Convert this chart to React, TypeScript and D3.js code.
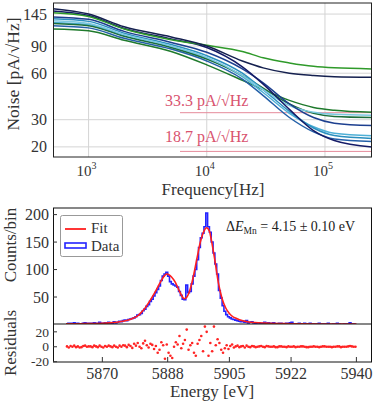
import React from "react";
import * as d3 from "d3";

// ---- noise spectra (pA/sqrt(Hz)) read at these frequencies ----
const freqs = [500, 1000, 2000, 5000, 10000, 20000, 30000, 50000, 80000, 120000, 250000];
const navyFlat = [157, 145, 120, 103, 90, 72, 65, 60, 58, 57, 56.5];
const greenFlat = [148, 140, 116, 99, 91, 83, 75.5, 70, 66.5, 65, 64];
const navySteep = [152, 142, 117, 100, 88, 66, 51, 35, 25.5, 22, 20];
const greenLow = [116, 113, 98, 83, 68, 54, 47, 40, 36, 34.5, 33.5];
const greenMid = [126, 122, 104, 88, 74, 58, 48, 38, 33, 31.5, 31];
const cyanHigh = [131, 126, 107, 90, 76, 58, 47, 37, 33.5, 32.5, 32];
const blueMid = [139, 134, 112, 95, 82, 64, 52, 38, 31, 28.5, 27.5];
const cyanLow = [128, 124, 105, 89, 75, 57, 45, 33, 27, 24.5, 23.6];
const tealLow = [135, 130, 109, 92, 78, 60, 47, 34, 26.5, 23.7, 22.7];
const blueLow = [122, 118, 101, 86, 72, 55, 43, 31, 25, 22.5, 21.7];
const noiseTicks = [20, 30, 60, 90, 145];
const freqTicks = [1000, 10000, 100000];
const refLevels = [33.3, 18.7];

// ---- Mn K-alpha spectrum, 0.5 eV bins from 5860 eV ----
const binStart = 5860;
const binWidth = 0.5;
const counts = [
  1, 2, 2, 1, 3, 1, 2, 0, 1, 2, 3, 1, 2, 2, 1, 3, 2, 1, 4, 2,
  1, 3, 2, 4, 3, 2, 5, 3, 4, 6, 5, 7, 8, 7, 9, 10, 11, 12, 14, 17,
  18, 20, 25, 28, 33, 36, 42, 46, 52, 58, 64, 70, 80, 88, 92, 95, 88, 78, 74, 72,
  70, 68, 60, 53, 46, 45, 72, 58, 60, 74, 88, 100, 118, 140, 158, 166, 178, 203, 178, 168,
  150, 130, 110, 92, 62, 48, 34, 24, 18, 14, 12, 10, 9, 8, 7, 6, 5, 6, 4, 7,
  3, 4, 5, 3, 2, 3, 3, 2, 2, 4, 1, 3, 2, 2, 3, 1, 1, 2, 2, 1,
  0, 2, 1, 3, 4, 1, 1, 1, 2, 0, 1, 2, 0, 1, 2, 1, 1, 0, 1, 2,
  0, 1, 1, 1, 2, 0, 0, 1, 1, 2, 1, 0, 0, 1, 1, 1, 3, 1, 1, 0,
];
const residuals = [
  0.5, -1, 1, 0, 1.5, -0.5, 0.5, -1, -0.5, 1, 1.5, 0, 0.5, 0.5, -0.5, 1.5, 0.5, -0.5, 1.5, 0,
  -1, 1, 0, 1.5, 0.5, -0.5, 1.5, 0, -1, 1.5, 0, 2, 1.5, -0.5, 2.5, 1, -1.5, 4, 1.5, 5,
  0, -2, 4.5, 8, 2, -1, 4, 2.5, -3, 1, -8, -4, 6, 2, -16, 3, -8, -12, -15, 0,
  6, 3, 14.5, -2, 4, 9, 23, -4, 2, 5, -8, -12, 4, 9, 14.5, -6, 27, 20, -12, 5,
  -6, 27, 2, 10, 5, -4, -8, -2, 2, -3, 1, 3, -1, 0.5, 1.5, -0.5, 0.5, 1, -1, 1.5,
  0, -0.5, 1, 0.5, -0.5, 0, 0.5, 1, 0, -0.5, 1, 0.5, 0, 0, 0.5, -0.5, -0.5, 0.5, 0.5, 0,
  0, -0.5, 0.5, 0, 0, 0.5, -0.5, 0, 0, 0.5, 0.5, 0, -0.5, -0.5, 0, 0, 0.5, 0, 0, -0.5,
  0, 0.5, 0.5, 0, 0, 0, -0.5, 0, 0, 0.5, 0.5, -0.5, 0, 0, 0, 0.5, 1, 0.5, 0, 0,
];
const fitEnergy = [5860, 5864, 5868, 5870, 5872, 5874, 5876, 5878, 5880, 5881, 5882, 5883, 5884, 5885, 5886, 5887, 5887.8, 5888.5, 5889, 5890, 5891, 5892, 5892.5, 5893, 5894, 5895, 5896, 5897, 5898, 5898.7, 5899.5, 5900, 5901, 5902, 5903, 5904, 5905, 5906, 5907, 5908, 5910, 5912, 5915, 5920, 5925, 5930, 5935, 5940];
const fitCounts = [1.2, 1.5, 1.9, 2.3, 3.0, 4.2, 6.3, 10, 17, 24, 32, 42, 53, 65, 77, 88, 92, 90, 87, 78, 64, 51, 47, 48, 60, 85, 118, 150, 170, 176, 170, 155, 117, 75, 47, 30, 20, 14, 11, 8, 5, 3.5, 2.5, 1.6, 1.2, 1.0, 0.9, 0.8];
const energyTicks = [5870, 5888, 5905, 5922, 5940];
const countTicks = [50, 100, 150, 200];
const residualTicks = [-20, 0, 20];

const FONT = "Liberation Serif, Times New Roman, Times, serif";

export default function App() {
  // top panel
  const x1 = d3.scaleLog().domain([500, 250000]).range([53, 372]);
  const y1 = d3.scaleLog().domain([17.2, 171]).range([157, 3]);
  const series = [
    { v: greenLow, c: "#1f7a2c" },
    { v: blueLow, c: "#2460a8" },
    { v: cyanLow, c: "#4fb0d6" },
    { v: greenMid, c: "#1c6e3a" },
    { v: tealLow, c: "#2a8fbf" },
    { v: cyanHigh, c: "#7cc8e0" },
    { v: blueMid, c: "#1c3f8f" },
    { v: navySteep, c: "#141a66" },
    { v: greenFlat, c: "#2f9a2a" },
    { v: navyFlat, c: "#15204f" },
  ];
  const noiseLine = d3
    .line<number>()
    .x((_, i) => x1(freqs[i]))
    .y((d) => y1(d))
    .curve(d3.curveMonotoneX);

  // bottom panels
  const xE = d3.scaleLinear().domain([5856.4, 5944.3]).range([53, 372]);
  const yC = d3.scaleLinear().domain([0, 212]).range([324.5, 208]);
  const yR = d3.scaleLinear().domain([-20, 30.5]).range([361.7, 324]);
  const histPts: [number, number][] = counts.map((c, i) => [xE(binStart + binWidth * i), yC(c)]);
  histPts.push([xE(binStart + binWidth * counts.length), yC(counts[counts.length - 1])]);
  const histLine = d3.line().curve(d3.curveStepAfter)(histPts);
  const fitLine = d3
    .line<number>()
    .x((_, i) => xE(fitEnergy[i]))
    .y((d) => yC(d))
    .curve(d3.curveMonotoneX)(fitCounts);

  const pink = "#d9536f";
  const ink = "#333";

  return (
    <svg
      width={374}
      height={404}
      style={{ position: "absolute", left: 0, top: 0, background: "#fff", fontFamily: FONT }}
    >
      <defs>
        <clipPath id="c1">
          <rect x={53} y={3} width={319} height={154} />
        </clipPath>
        <clipPath id="c2">
          <rect x={53} y={208} width={319} height={116} />
        </clipPath>
      </defs>

      {/* ---------- noise panel ---------- */}
      {freqTicks.map((f) => (
        <line key={f} x1={x1(f)} x2={x1(f)} y1={3} y2={157} stroke="#d4d4d4" />
      ))}
      {noiseTicks.map((t) => (
        <line key={t} x1={53} x2={372} y1={y1(t)} y2={y1(t)} stroke="#d4d4d4" />
      ))}
      {refLevels.map((r) => (
        <line key={r} x1={180} x2={372} y1={y1(r)} y2={y1(r)} stroke="#e58a9a" strokeWidth={1} />
      ))}
      <g clipPath="url(#c1)" fill="none" strokeWidth={1.5}>
        {series.map((s, i) => (
          <path key={i} d={noiseLine(s.v) || ""} stroke={s.c} />
        ))}
      </g>
      <text x={165} y={106} fontSize={16} fill={pink}>33.3 pA/√Hz</text>
      <text x={165} y={142} fontSize={16} fill={pink}>18.7 pA/√Hz</text>
      <rect x={53.5} y={3} width={318} height={154} fill="none" stroke="#222" />
      {noiseTicks.map((t) => (
        <text key={t} x={47} y={y1(t)} dy="0.35em" textAnchor="end" fontSize={16} fill={ink}>
          {t}
        </text>
      ))}
      {freqTicks.map((f) => (
        <text key={f} x={x1(f) - 2} y={176} textAnchor="middle" fontSize={15} fill={ink}>
          10
          <tspan dy={-7} fontSize={10}>
            {Math.round(Math.log10(f))}
          </tspan>
        </text>
      ))}
      <text x={213} y={195} textAnchor="middle" fontSize={17} fill={ink}>
        Frequency[Hz]
      </text>
      <text transform="translate(19,74) rotate(-90)" textAnchor="middle" fontSize={17.5} fill={ink}>
        Noise [pA/√Hz]
      </text>

      {/* ---------- spectrum panel ---------- */}
      <g clipPath="url(#c2)" fill="none">
        <path d={histLine || ""} stroke="#2323ff" strokeWidth={1.6} />
        <path d={fitLine || ""} stroke="#ff1f1f" strokeWidth={1.6} />
      </g>
      {residuals.map((r, i) => (
        <circle key={i} cx={xE(binStart + binWidth * (i + 0.5))} cy={yR(r)} r={1.3} fill="#ff2424" />
      ))}
      <rect x={53.5} y={208} width={318} height={154} fill="none" stroke="#111" />
      <line x1={53} x2={372} y1={324} y2={324} stroke="#111" strokeWidth={1.2} />
      {countTicks.map((t) => (
        <g key={t}>
          <line x1={53} x2={57} y1={yC(t)} y2={yC(t)} stroke={ink} />
          <text x={49} y={yC(t)} dy="0.35em" textAnchor="end" fontSize={16} fill={ink}>
            {t}
          </text>
        </g>
      ))}
      {residualTicks.map((t) => (
        <g key={t}>
          <line x1={53} x2={57} y1={yR(t)} y2={yR(t)} stroke={ink} />
          <text x={49} y={yR(t) + (t === 20 ? 1 : 0)} dy="0.33em" textAnchor="end" fontSize={13.5} fill={ink}>
            {t}
          </text>
        </g>
      ))}
      {energyTicks.map((t) => (
        <g key={t}>
          <line x1={xE(t)} x2={xE(t)} y1={362} y2={357} stroke={ink} />
          <text x={xE(t)} y={378.5} textAnchor="middle" fontSize={16} fill={ink}>
            {t}
          </text>
        </g>
      ))}
      <text x={212} y={397} textAnchor="middle" fontSize={17} fill={ink}>
        Energy [eV]
      </text>
      <text transform="translate(16,245) rotate(-90)" textAnchor="middle" fontSize={17} fill={ink}>
        Counts/bin
      </text>
      <text transform="translate(16,343) rotate(-90)" textAnchor="middle" fontSize={17} fill={ink}>
        Residuals
      </text>

      {/* legend */}
      <rect x={60.5} y={215.5} width={62} height={41} rx={2} fill="#fff" stroke="#999" />
      <line x1={65} x2={86} y1={229} y2={229} stroke="#ff1f1f" strokeWidth={1.8} />
      <rect x={65} y={243} width={21} height={5} fill="#fff" stroke="#2323ff" strokeWidth={1.6} />
      <text x={91} y={233} fontSize={15} fill={ink}>Fit</text>
      <text x={91} y={251} fontSize={15} fill={ink}>Data</text>

      <text x={226} y={231} fontSize={14} fill="#222">
        Δ<tspan fontStyle="italic">E</tspan>
        <tspan fontSize={9.5} dy={3}>Mn</tspan>
        <tspan dy={-3}> = 4.15 ± 0.10 eV</tspan>
      </text>
    </svg>
  );
}
